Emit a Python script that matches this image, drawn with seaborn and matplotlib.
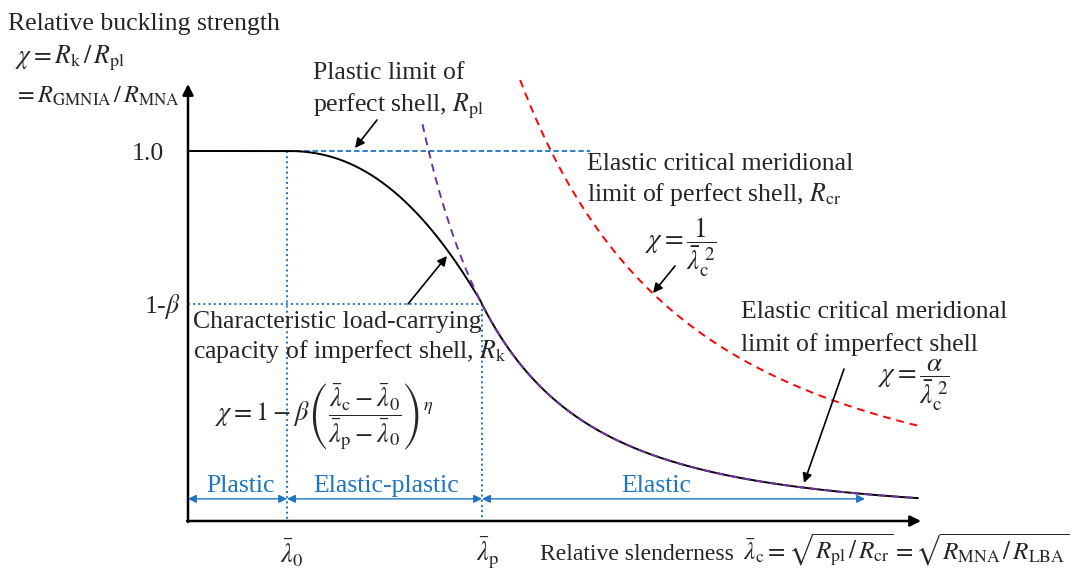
import numpy as np
import pandas as pd
import matplotlib
matplotlib.use("Agg")
import matplotlib.pyplot as plt
import seaborn as sns

# curve parameters (x = relative slenderness, y = chi)
lam_0 = 0.273          # end of plastic plateau
lam_p = 0.810          # start of elastic branch
beta = 0.418           # plastic range factor, 1 - beta at lam_p
eta = 2.2              # interaction exponent
alpha = 0.327          # imperfection factor of the elastic branch
el_exp = 2.72          # decay of the elastic branch as drawn
lam_end = 2.011        # right end of the curves
lam_red_start = 0.915  # where the perfect-shell curve begins
lam_pur_start = 0.646  # where the imperfect-shell curve begins
lam_pl_end = 1.107     # end of the R_pl dashed line
lam_el_arrow = 1.865   # end of the "Elastic" range arrow
chi_axis = -0.014      # height of the drawn x axis
chi_ranges = 0.047     # height of the range arrows

ytick_values = [1.0, 1 - beta]
ytick_labels = ["1.0", r"1-$\beta$"]
range_names = ["Plastic", "Elastic-plastic", "Elastic"]

W, H = 1073, 575
BLUE = "#1F74C4"
RED = "#FF0000"
PURPLE = "#7030A0"

sns.set_theme(style="white")
plt.rcParams["font.family"] = ["Liberation Serif", "DejaVu Serif"]
plt.rcParams["mathtext.fontset"] = "stix"

lam = np.linspace(0.0, lam_end, 800)
lam_s = np.maximum(lam, 1e-3)
chi_k = np.where(lam <= lam_0, 1.0,
                 np.where(lam <= lam_p,
                          1 - beta * (np.clip(lam - lam_0, 0, None) / (lam_p - lam_0)) ** eta,
                          alpha / lam_s ** el_exp))
lam_r = np.linspace(lam_red_start, lam_end, 300)
lam_q = np.linspace(lam_pur_start, lam_end, 300)

curves = pd.DataFrame({"lam": lam, "chi": chi_k})
red = pd.DataFrame({"lam": lam_r, "chi": 1 / lam_r ** 2})
purple = pd.DataFrame({"lam": lam_q, "chi": alpha / lam_q ** el_exp})

fig = plt.figure(figsize=(W / 100, H / 100), dpi=100)
ax = fig.add_axes([0, 0, 1, 1])


def fx(x):
    return x / W


def fy(y):
    return 1 - y / H


# guide lines
ax.plot([0, lam_pl_end], [1, 1], color=BLUE, lw=1.3, dashes=[3, 1.6])
ax.plot([lam_0, lam_0], [1, chi_axis], color=BLUE, lw=1.4, ls=":")
ax.plot([lam_p, lam_p], [1 - beta, chi_axis], color=BLUE, lw=1.4, ls=":")
ax.plot([0, lam_p], [1 - beta, 1 - beta], color=BLUE, lw=1.4, ls=":")

sns.lineplot(data=curves, x="lam", y="chi", ax=ax, color="black", lw=1.4)
sns.lineplot(data=red, x="lam", y="chi", ax=ax, color=RED, lw=1.4)
ax.lines[-1].set_dashes([4, 3])
sns.lineplot(data=purple, x="lam", y="chi", ax=ax, color=PURPLE, lw=1.4)
ax.lines[-1].set_dashes([4, 3])

ax.set_xlim(-188 / 363, (W - 188) / 363)
ax.set_ylim((516 - H) / 365, 516 / 365)
ax.axis("off")

# axes with arrow heads
axis_style = dict(arrowstyle="-|>", color="black", lw=1.8, mutation_scale=16,
                  shrinkA=0, shrinkB=0)
ax.annotate("", xy=(fx(921), fy(521)), xytext=(fx(187), fy(521)),
            xycoords="axes fraction", arrowprops=axis_style)
ax.annotate("", xy=(fx(188), fy(84)), xytext=(fx(188), fy(522)),
            xycoords="axes fraction", arrowprops=axis_style)

# range arrows
range_style = dict(arrowstyle="<|-|>", color=BLUE, lw=1.0, mutation_scale=12,
                   shrinkA=0, shrinkB=0)
range_ends = [(0, lam_0), (lam_0, lam_p), (lam_p, lam_el_arrow)]
range_px = [241, 386, 656]
for (a, b), name, xc in zip(range_ends, range_names, range_px):
    ax.annotate("", xy=(b, chi_ranges), xytext=(a, chi_ranges),
                arrowprops=range_style)
    ax.text(fx(xc), fy(492), name, transform=ax.transAxes, ha="center",
            va="baseline", fontsize=18.5, color=BLUE)

# y tick labels
ax.text(fx(164), fy(160), ytick_labels[0], transform=ax.transAxes,
        ha="right", va="baseline", fontsize=18.5)
ax.text(fx(181), fy(313), ytick_labels[1], transform=ax.transAxes,
        ha="right", va="baseline", fontsize=18.5)

# x tick labels
ax.text(fx(292), fy(553), r"$\bar{\lambda}_0$", transform=ax.transAxes,
        ha="center", va="center", fontsize=19)
ax.text(fx(488), fy(553), r"$\bar{\lambda}_{\mathrm{p}}$", transform=ax.transAxes,
        ha="center", va="center", fontsize=19)

txt = dict(transform=ax.transAxes, fontsize=18.5, va="baseline", ha="left")
ax.text(fx(8), fy(30), "Relative buckling strength", **txt)
ax.text(fx(15), fy(63), r"$\chi = R_{\mathrm{k}}\,/\,R_{\mathrm{pl}}$", **txt)
ax.text(fx(14), fy(103), r"$= R_{\mathrm{GMNIA}}\,/\,R_{\mathrm{MNA}}$",
        transform=ax.transAxes, fontsize=17.5, va="baseline", ha="left")

ax.text(fx(313), fy(79), "Plastic limit of", **txt)
ax.text(fx(313), fy(111), r"perfect shell, $R_{\mathrm{pl}}$", **txt)

ax.text(fx(587), fy(170), "Elastic critical meridional", **txt)
ax.text(fx(587), fy(201), r"limit of perfect shell, $R_{\mathrm{cr}}$", **txt)
ax.text(fx(681), fy(247), r"$\chi = \dfrac{1}{\bar{\lambda}_{\mathrm{c}}^{\ 2}}$",
        transform=ax.transAxes, fontsize=19.5, ha="center", va="center")

ax.text(fx(741), fy(318), "Elastic critical meridional", **txt)
ax.text(fx(741), fy(351), "limit of imperfect shell", **txt)
ax.text(fx(914), fy(385), r"$\chi = \dfrac{\alpha}{\bar{\lambda}_{\mathrm{c}}^{\ 2}}$",
        transform=ax.transAxes, fontsize=19.5, ha="center", va="center")

ax.text(fx(193), fy(328), "Characteristic load-carrying", **txt)
ax.text(fx(193), fy(358), r"capacity of imperfect shell, $R_{\mathrm{k}}$", **txt)
ax.text(fx(324), fy(417),
        r"$\chi = 1 - \beta\left(\dfrac{\bar{\lambda}_{\mathrm{c}} - \bar{\lambda}_0}"
        r"{\bar{\lambda}_{\mathrm{p}} - \bar{\lambda}_0}\right)^{\eta}$",
        transform=ax.transAxes, fontsize=19, ha="center", va="center")

ax.text(fx(540), fy(560), "Relative slenderness",
        transform=ax.transAxes, fontsize=17, va="baseline", ha="left")
ax.text(fx(1070), fy(560),
        r"$\bar{\lambda}_{\mathrm{c}} = "
        r"\sqrt{R_{\mathrm{pl}}\,/\,R_{\mathrm{cr}}} = "
        r"\sqrt{R_{\mathrm{MNA}}\,/\,R_{\mathrm{LBA}}}$",
        transform=ax.transAxes, fontsize=18.1, va="baseline", ha="right")

# pointer arrows
ptr = dict(arrowstyle="-|>", color="black", lw=1.2, mutation_scale=14,
           shrinkA=0, shrinkB=0)
pointers = [((377, 120), (355, 148)), ((408, 304), (447, 256)),
            ((675, 266), (653, 293)), ((844, 369), (804, 483))]
for (tx, ty), (hx, hy) in pointers:
    ax.annotate("", xy=(fx(hx), fy(hy)), xytext=(fx(tx), fy(ty)),
                xycoords="axes fraction", arrowprops=ptr)

fig.savefig("out.png", dpi=100)
